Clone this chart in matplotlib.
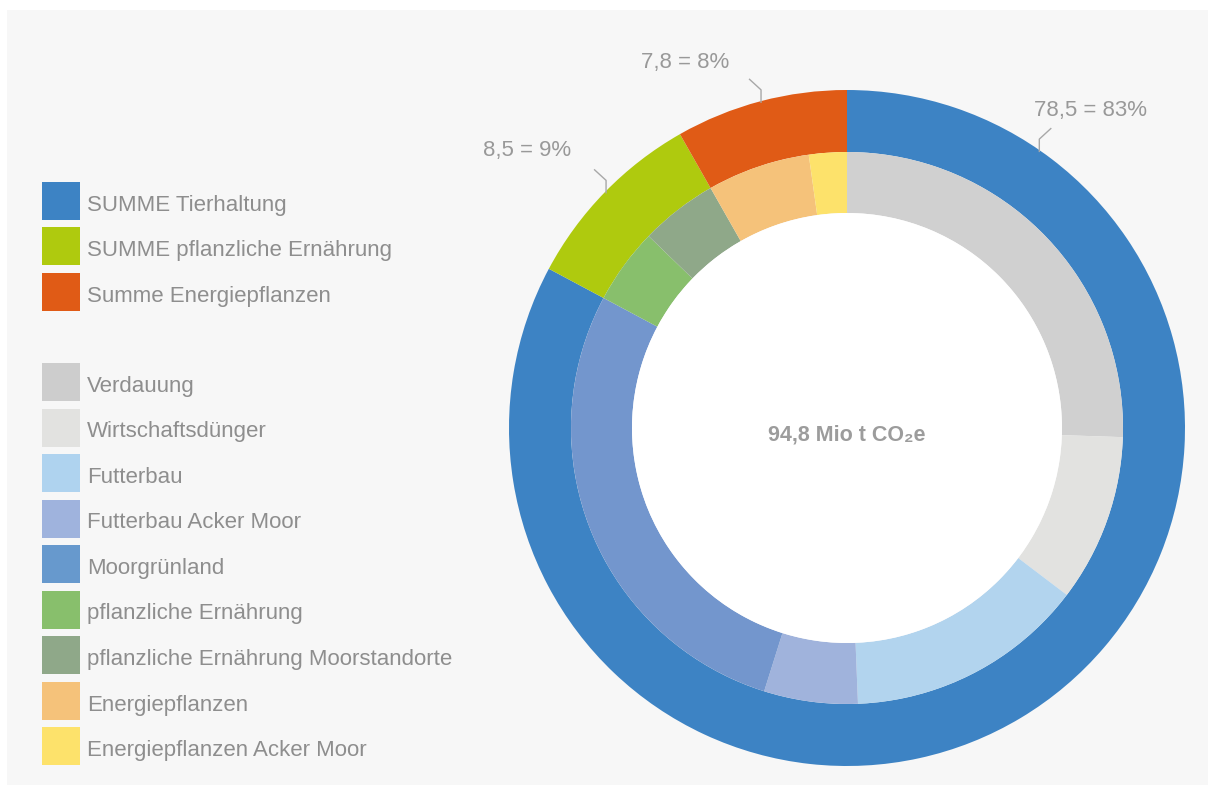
import matplotlib
matplotlib.use("Agg")
import matplotlib.pyplot as plt
from matplotlib.patches import Rectangle, Circle
import numpy as np

# ---------------- data ----------------
outer_labels = ["SUMME Tierhaltung", "SUMME pflanzliche Ernährung", "Summe Energiepflanzen"]
outer_values = [78.5, 8.5, 7.8]

inner_labels = ["Verdauung", "Wirtschaftsdünger", "Futterbau", "Futterbau Acker Moor",
                "Moorgrünland", "pflanzliche Ernährung", "pflanzliche Ernährung Moorstandorte",
                "Energiepflanzen", "Energiepflanzen Acker Moor"]
inner_values = [24.2, 9.3, 13.3, 5.2, 26.5, 4.2, 4.3, 5.7, 2.1]

center_unit = "Mio t CO₂e"

# ---------------- style ----------------
outer_colors = ["#3d83c4", "#afca0e", "#e05b16"]
inner_colors = ["#d0d0d0", "#e2e2e0", "#b2d4ee", "#a0b3dc", "#7396cd",
                "#88bf6c", "#8fa889", "#f5c27a", "#fde26b"]
legend_inner_colors = ["#cdcdcd", "#e2e2e0", "#afd3ef", "#9fb3dd", "#6799cd",
                       "#88bf6c", "#8fa889", "#f5c27a", "#fde26b"]
TXT = "#8e8e8e"
FONT = ["Liberation Sans", "DejaVu Sans"]
plt.rcParams["font.family"] = FONT

W, H = 1215, 789
fig = plt.figure(figsize=(W / 100, H / 100), dpi=100)
fig.patch.set_facecolor("white")

def fx(x):
    return x / W

def fy(y):
    return 1 - y / H

# light panel
fig.add_artist(Rectangle((fx(7), fy(785)), (1208 - 7) / W, (785 - 10) / H,
                         transform=fig.transFigure, facecolor="#f7f7f7",
                         edgecolor="none", zorder=0))

# ---------------- donut ----------------
cx, cy, R = 847, 428, 338
ax = fig.add_axes([fx(cx - R), fy(cy + R), 2 * R / W, 2 * R / H])
ax.set_facecolor("none")

ring_w = 62 / R
inner_r = 276 / R
hole_r = 215 / R

outer_wedges, _ = ax.pie(outer_values, radius=1.0, colors=outer_colors, startangle=90,
                         counterclock=False,
                         wedgeprops=dict(width=ring_w, edgecolor="none", linewidth=0))
inner_wedges, _ = ax.pie(inner_values, radius=inner_r, colors=inner_colors, startangle=90,
                         counterclock=False,
                         wedgeprops=dict(width=inner_r - hole_r, edgecolor="none", linewidth=0))
ax.add_patch(Circle((0, 0), hole_r, facecolor="white", edgecolor="none"))
ax.set_xlim(-1, 1)
ax.set_ylim(-1, 1)
ax.axis("off")

total = sum(outer_values)

def fmt(v):
    return f"{v:.1f}".replace(".", ",")

ax.text(0, -0.022, f"{fmt(total)} {center_unit}", ha="center", va="center",
        fontsize=15.5, color="#9c9c9c", fontweight="bold", family=FONT)

# labels with leader lines: (fraction along wedge, direction of kink, text offset px)
label_style = [
    (0.117, +1, (51, 42)),
    (0.5, -1, (-79, 43)),
    (0.5, -1, (-76, 40)),
]
px = 1 / R
for w, v, (frac, d, (tx, ty)) in zip(outer_wedges, outer_values, label_style):
    # wedges go clockwise: theta2 is the start (top) end
    ang = np.deg2rad(w.theta2 - frac * (w.theta2 - w.theta1))
    x0, y0 = np.cos(ang) * 0.995, np.sin(ang) * 0.995
    xs = [x0, x0, x0 + d * 12 * px]
    ys = [y0, y0 + 13 * px, y0 + 24 * px]
    ax.plot(xs, ys, color="#a8a8a8", lw=1.0, clip_on=False, solid_capstyle="butt")
    pct = round(v / total * 100)
    ax.text(x0 + tx * px, y0 + ty * px, f"{fmt(v)} = {pct}%", ha="center", va="center",
            fontsize=16, color="#999999", clip_on=False)

# ---------------- legend ----------------
sq = 38
def legend_item(y_top, color, label):
    fig.add_artist(Rectangle((fx(42), fy(y_top + sq)), sq / W, sq / H,
                             transform=fig.transFigure, facecolor=color,
                             edgecolor="none", zorder=2))
    fig.text(fx(87), fy(y_top + 29), label, ha="left", va="baseline",
             fontsize=16, color=TXT)

for i, (lab, col) in enumerate(zip(outer_labels, outer_colors)):
    legend_item(182 + i * 45.3, col, lab)
for i, (lab, col) in enumerate(zip(inner_labels, legend_inner_colors)):
    legend_item(363 + i * 45.5, col, lab)

fig.savefig("out.png", dpi=100, facecolor="white")
